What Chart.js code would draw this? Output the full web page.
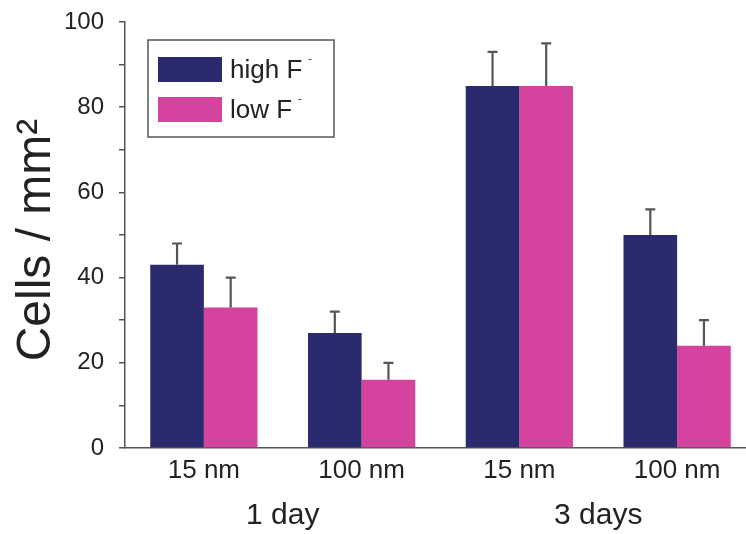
<!DOCTYPE html>
<html>
<head>
<meta charset="utf-8">
<script src="https://cdn.jsdelivr.net/npm/chart.js@4.4.1/dist/chart.umd.min.js"></script>
<style>
html,body{margin:0;padding:0;background:#fff;overflow:hidden;}
#wrap{width:770px;height:534px;position:relative;}
</style>
</head>
<body>
<div id="wrap"><canvas id="c"></canvas></div>
<script>
const categories = ["15 nm", "100 nm", "15 nm", "100 nm"];
const groupLabels = ["1 day", "3 days"];
const seriesNames = ["high F", "low F"];
const highF = [43, 27, 85, 50];
const highFErr = [5, 5, 8, 6];
const lowF = [33, 16, 85, 24];
const lowFErr = [7, 4, 10, 6];
const yTicks = [0, 20, 40, 60, 80, 100];
const yTitle = "Cells / mm²";

const NAVY = "#2c2a6e";
const PINK = "#d4439d";
const FONT = "'Liberation Sans', Arial, sans-serif";
const errs = [highFErr, lowFErr];

const errorBars = {
  id: "errorBars",
  afterDatasetsDraw(chart) {
    const ctx = chart.ctx, ys = chart.scales.y;
    ctx.save();
    ctx.strokeStyle = "#555";
    ctx.lineWidth = 2.2;
    chart.data.datasets.forEach((ds, i) => {
      const meta = chart.getDatasetMeta(i);
      meta.data.forEach((el, j) => {
        const top = ys.getPixelForValue(ds.data[j] + errs[i][j]);
        ctx.beginPath();
        ctx.moveTo(el.x, el.y);
        ctx.lineTo(el.x, top);
        ctx.moveTo(el.x - 5, top);
        ctx.lineTo(el.x + 5, top);
        ctx.stroke();
      });
    });
    ctx.restore();
  }
};

const extras = {
  id: "extras",
  afterDraw(chart) {
    const ctx = chart.ctx, xs = chart.scales.x, area = chart.chartArea;
    ctx.save();
    // group labels
    ctx.fillStyle = "#222";
    ctx.font = "30px " + FONT;
    ctx.textAlign = "center";
    ctx.textBaseline = "middle";
    groupLabels.forEach((g, k) => {
      const a = xs.getPixelForValue(2 * k), b = xs.getPixelForValue(2 * k + 1);
      ctx.fillText(g, (a + b) / 2, 516);
    });
    // y title
    ctx.save();
    ctx.translate(37, (area.top + area.bottom) / 2 + 5);
    ctx.rotate(-Math.PI / 2);
    ctx.font = "48px " + FONT;
    ctx.fillStyle = "#222";
    ctx.fillText(yTitle, 0, 0);
    ctx.restore();
    // legend
    const lx = 148, ly = 40, lw = 186, lh = 97;
    ctx.strokeStyle = "#555";
    ctx.lineWidth = 1.5;
    ctx.strokeRect(lx, ly, lw, lh);
    chart.data.datasets.forEach((ds, i) => {
      const ry = ly + 17 + i * 40;
      ctx.fillStyle = ds.backgroundColor;
      ctx.fillRect(lx + 10, ry, 64, 25);
      ctx.fillStyle = "#222";
      ctx.textAlign = "left";
      ctx.font = "26px " + FONT;
      ctx.fillText(ds.label, lx + 82, ry + 14);
      const w = ctx.measureText(ds.label).width;
      ctx.font = "11px " + FONT;
      ctx.fillText("-", lx + 88 + w, ry + 2);
    });
    ctx.restore();
  }
};

new Chart(document.getElementById("c"), {
  type: "bar",
  data: {
    labels: categories,
    datasets: [
      { label: seriesNames[0], data: highF, backgroundColor: NAVY },
      { label: seriesNames[1], data: lowF, backgroundColor: PINK }
    ]
  },
  options: {
    responsive: true,
    maintainAspectRatio: false,
    animation: false,
    layout: { padding: { top: 22, right: 14, left: 0, bottom: 0 } },
    plugins: { legend: { display: false }, tooltip: { enabled: false } },
    datasets: { bar: { categoryPercentage: 0.68, barPercentage: 1.0 } },
    scales: {
      x: {
        grid: { display: false, drawTicks: false },
        border: { display: true, color: "#555", width: 1.5 },
        ticks: { color: "#222", font: { size: 26, family: FONT }, padding: 7, maxRotation: 0 },
        afterFit(s) { s.height = 86; s.paddingLeft = 0; s.paddingRight = 0; }
      },
      y: {
        min: 0, max: 100,
        grid: { drawOnChartArea: false, drawTicks: true, tickLength: 6, color: "#555", lineWidth: 1.5 },
        border: { display: true, color: "#555", width: 1.5 },
        ticks: {
          stepSize: 10,
          color: "#222",
          font: { size: 24, family: FONT },
          padding: 15,
          callback: (v) => (yTicks.includes(v) ? String(v) : "")
        },
        afterFit(s) { s.width = 125; s.paddingTop = 0; s.paddingBottom = 0; }
      }
    }
  },
  plugins: [errorBars, extras]
});
</script>
</body>
</html>
